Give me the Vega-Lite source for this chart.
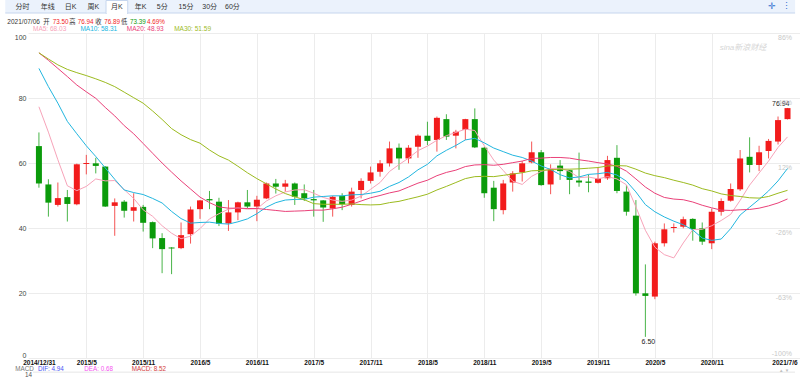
{
"$schema":"https://vega.github.io/schema/vega-lite/v6.json",
"width":772,"height":325,
"autosize":{"type":"none"},
"padding":{"left":28,"top":33,"right":0,"bottom":19},
"background":"white",
"config":{"view":{"stroke":null},"text":{"font":"Liberation Sans, Noto Sans CJK SC"}},
"datasets":{
"k":[
{"i":0,"o":65.2,"h":69.4,"l":52.4,"c":53.7,"m5":77.3,"m10":89.1,"m20":93.9,"m30":93.9},
{"i":1,"o":53.4,"h":55.0,"l":43.5,"c":47.8,"m5":69.5,"m10":83.5,"m20":91.6,"m30":92.0},
{"i":2,"o":47.1,"h":54.0,"l":46.6,"c":49.2,"m5":61.0,"m10":78.4,"m20":89.1,"m30":90.2},
{"i":3,"o":49.5,"h":51.7,"l":42.0,"c":47.4,"m5":53.0,"m10":72.8,"m20":86.6,"m30":88.8},
{"i":4,"o":47.3,"h":59.8,"l":47.0,"c":59.6,"m5":51.5,"m10":69.0,"m20":84.0,"m30":87.8},
{"i":5,"o":59.7,"h":62.5,"l":56.5,"c":60.0,"m5":52.8,"m10":65.3,"m20":81.9,"m30":86.9},
{"i":6,"o":59.9,"h":61.6,"l":56.8,"c":59.1,"m5":55.1,"m10":62.0,"m20":79.9,"m30":85.9},
{"i":7,"o":58.9,"h":59.0,"l":46.5,"c":46.6,"m5":54.5,"m10":58.5,"m20":77.1,"m30":84.8},
{"i":8,"o":46.8,"h":49.1,"l":37.6,"c":47.9,"m5":54.6,"m10":55.0,"m20":74.5,"m30":83.5},
{"i":9,"o":48.1,"h":48.6,"l":43.2,"c":45.3,"m5":51.8,"m10":51.7,"m20":71.5,"m30":81.8},
{"i":10,"o":45.3,"h":50.7,"l":42.0,"c":46.4,"m5":49.1,"m10":50.9,"m20":69.0,"m30":80.1},
{"i":11,"o":46.5,"h":47.1,"l":38.9,"c":41.6,"m5":45.6,"m10":50.3,"m20":66.0,"m30":78.4},
{"i":12,"o":41.8,"h":42.0,"l":33.8,"c":36.8,"m5":43.6,"m10":49.1,"m20":63.0,"m30":76.0},
{"i":13,"o":36.9,"h":38.4,"l":26.1,"c":33.5,"m5":40.7,"m10":47.7,"m20":60.0,"m30":73.4},
{"i":14,"o":34.0,"h":34.1,"l":25.8,"c":33.7,"m5":38.4,"m10":45.1,"m20":57.2,"m30":70.6},
{"i":15,"o":33.8,"h":41.7,"l":33.5,"c":37.8,"m5":36.7,"m10":42.9,"m20":54.5,"m30":68.7},
{"i":16,"o":38.1,"h":46.6,"l":35.2,"c":45.7,"m5":37.5,"m10":41.5,"m20":52.0,"m30":67.2},
{"i":17,"o":45.8,"h":48.6,"l":42.8,"c":48.5,"m5":39.8,"m10":41.7,"m20":49.5,"m30":66.1},
{"i":18,"o":48.9,"h":51.4,"l":45.8,"c":48.5,"m5":42.8,"m10":41.8,"m20":47.8,"m30":64.0},
{"i":19,"o":48.1,"h":49.3,"l":40.6,"c":41.3,"m5":44.4,"m10":41.4,"m20":46.5,"m30":62.2},
{"i":20,"o":41.4,"h":48.6,"l":39.1,"c":44.8,"m5":45.8,"m10":41.2,"m20":46.1,"m30":60.9},
{"i":21,"o":44.8,"h":48.1,"l":42.4,"c":47.9,"m5":46.2,"m10":41.9,"m20":46.1,"m30":59.0},
{"i":22,"o":47.9,"h":51.7,"l":46.0,"c":46.6,"m5":45.8,"m10":42.8,"m20":46.0,"m30":57.0},
{"i":23,"o":46.6,"h":49.9,"l":42.1,"c":48.7,"m5":45.9,"m10":44.4,"m20":46.0,"m30":55.2},
{"i":24,"o":49.1,"h":54.0,"l":48.9,"c":53.7,"m5":48.3,"m10":46.4,"m20":45.7,"m30":53.6},
{"i":25,"o":53.7,"h":55.1,"l":50.6,"c":52.7,"m5":49.9,"m10":47.8,"m20":45.4,"m30":52.0},
{"i":26,"o":52.7,"h":54.8,"l":51.2,"c":53.7,"m5":51.1,"m10":48.6,"m20":45.1,"m30":50.6},
{"i":27,"o":53.7,"h":54.0,"l":47.1,"c":49.6,"m5":51.7,"m10":48.8,"m20":45.2,"m30":49.6},
{"i":28,"o":50.7,"h":53.4,"l":48.3,"c":49.1,"m5":51.8,"m10":48.8,"m20":45.3,"m30":48.7},
{"i":29,"o":48.9,"h":51.7,"l":43.5,"c":48.5,"m5":50.7,"m10":49.5,"m20":45.5,"m30":47.5},
{"i":30,"o":48.5,"h":48.6,"l":41.9,"c":46.3,"m5":49.4,"m10":49.7,"m20":45.5,"m30":47.3},
{"i":31,"o":46.0,"h":49.9,"l":43.5,"c":49.6,"m5":48.6,"m10":49.9,"m20":45.9,"m30":47.3},
{"i":32,"o":49.9,"h":50.7,"l":45.5,"c":47.3,"m5":48.2,"m10":49.9,"m20":46.4,"m30":47.3},
{"i":33,"o":47.1,"h":52.4,"l":46.6,"c":51.2,"m5":48.6,"m10":50.2,"m20":47.3,"m30":47.4},
{"i":34,"o":51.7,"h":55.3,"l":49.1,"c":54.5,"m5":49.8,"m10":50.3,"m20":48.3,"m30":47.2},
{"i":35,"o":54.5,"h":58.9,"l":53.7,"c":57.1,"m5":51.9,"m10":50.7,"m20":49.3,"m30":47.1},
{"i":36,"o":57.3,"h":60.9,"l":55.8,"c":59.9,"m5":54.0,"m10":51.3,"m20":50.0,"m30":47.2},
{"i":37,"o":59.9,"h":66.6,"l":58.9,"c":64.5,"m5":57.4,"m10":52.8,"m20":50.8,"m30":47.8},
{"i":38,"o":64.7,"h":66.0,"l":57.9,"c":61.4,"m5":59.5,"m10":54.0,"m20":51.4,"m30":48.2},
{"i":39,"o":61.4,"h":65.5,"l":59.9,"c":64.7,"m5":61.5,"m10":55.7,"m20":52.6,"m30":48.9},
{"i":40,"o":65.0,"h":68.8,"l":61.6,"c":68.4,"m5":63.8,"m10":57.9,"m20":53.8,"m30":49.6},
{"i":41,"o":68.4,"h":72.7,"l":65.5,"c":66.8,"m5":65.2,"m10":59.6,"m20":54.7,"m30":50.4},
{"i":42,"o":67.1,"h":74.3,"l":63.5,"c":73.9,"m5":67.0,"m10":62.2,"m20":56.1,"m30":51.7},
{"i":43,"o":73.5,"h":75.0,"l":67.1,"c":68.1,"m5":68.4,"m10":63.9,"m20":57.1,"m30":52.8},
{"i":44,"o":68.4,"h":70.2,"l":64.5,"c":69.6,"m5":69.4,"m10":65.4,"m20":57.8,"m30":54.0},
{"i":45,"o":70.2,"h":73.6,"l":67.1,"c":73.5,"m5":70.4,"m10":67.1,"m20":58.9,"m30":55.2},
{"i":46,"o":73.5,"h":76.8,"l":64.6,"c":64.8,"m5":70.0,"m10":67.6,"m20":59.4,"m30":55.8},
{"i":47,"o":64.7,"h":65.0,"l":49.3,"c":50.7,"m5":65.3,"m10":66.2,"m20":59.5,"m30":55.9},
{"i":48,"o":52.4,"h":54.5,"l":42.1,"c":45.8,"m5":60.9,"m10":64.6,"m20":59.3,"m30":55.8},
{"i":49,"o":45.5,"h":54.8,"l":44.2,"c":53.7,"m5":57.7,"m10":63.5,"m20":59.6,"m30":56.2},
{"i":50,"o":54.0,"h":57.5,"l":51.2,"c":56.8,"m5":54.4,"m10":62.4,"m20":60.1,"m30":56.6},
{"i":51,"o":57.1,"h":60.6,"l":54.3,"c":59.9,"m5":53.4,"m10":61.7,"m20":60.6,"m30":57.0},
{"i":52,"o":60.2,"h":66.6,"l":59.9,"c":63.3,"m5":55.9,"m10":60.6,"m20":61.4,"m30":57.6},
{"i":53,"o":63.3,"h":64.0,"l":53.0,"c":53.2,"m5":57.4,"m10":59.1,"m20":61.5,"m30":57.7},
{"i":54,"o":53.4,"h":59.6,"l":50.4,"c":58.2,"m5":58.3,"m10":58.0,"m20":61.7,"m30":57.9},
{"i":55,"o":59.2,"h":60.9,"l":54.8,"c":57.5,"m5":58.4,"m10":56.4,"m20":61.7,"m30":58.1},
{"i":56,"o":57.8,"h":57.9,"l":50.4,"c":54.8,"m5":57.4,"m10":55.4,"m20":61.5,"m30":58.1},
{"i":57,"o":54.6,"h":63.2,"l":52.7,"c":54.0,"m5":55.5,"m10":55.7,"m20":61.0,"m30":58.2},
{"i":58,"o":54.3,"h":56.5,"l":51.0,"c":53.9,"m5":55.7,"m10":56.5,"m20":60.6,"m30":58.4},
{"i":59,"o":53.9,"h":58.6,"l":53.7,"c":55.3,"m5":55.1,"m10":56.7,"m20":60.1,"m30":58.6},
{"i":60,"o":55.3,"h":62.2,"l":54.8,"c":60.9,"m5":55.8,"m10":57.1,"m20":59.7,"m30":59.1},
{"i":61,"o":61.6,"h":65.5,"l":50.7,"c":51.4,"m5":55.1,"m10":56.3,"m20":59.0,"m30":59.2},
{"i":62,"o":51.2,"h":53.2,"l":43.8,"c":45.0,"m5":53.3,"m10":54.4,"m20":57.5,"m30":59.1},
{"i":63,"o":43.8,"h":48.6,"l":19.2,"c":19.9,"m5":46.5,"m10":51.1,"m20":55.1,"m30":58.1},
{"i":64,"o":19.9,"h":28.8,"l":6.5,"c":19.1,"m5":39.3,"m10":47.2,"m20":52.6,"m30":56.9},
{"i":65,"o":18.9,"h":35.8,"l":18.1,"c":35.3,"m5":34.1,"m10":45.0,"m20":50.7,"m30":56.1},
{"i":66,"o":35.3,"h":41.4,"l":34.3,"c":39.6,"m5":31.8,"m10":43.4,"m20":49.4,"m30":55.5},
{"i":67,"o":40.0,"h":41.4,"l":38.6,"c":40.3,"m5":30.8,"m10":42.1,"m20":48.9,"m30":54.7},
{"i":68,"o":40.4,"h":43.5,"l":39.9,"c":42.7,"m5":35.4,"m10":41.0,"m20":48.7,"m30":54.0},
{"i":69,"o":42.8,"h":43.0,"l":36.1,"c":39.7,"m5":39.5,"m10":39.4,"m20":48.0,"m30":53.2},
{"i":70,"o":39.9,"h":41.7,"l":34.8,"c":35.8,"m5":39.6,"m10":36.9,"m20":47.0,"m30":52.1},
{"i":71,"o":35.3,"h":46.0,"l":33.5,"c":45.0,"m5":40.7,"m10":36.2,"m20":46.2,"m30":51.4},
{"i":72,"o":45.0,"h":49.1,"l":43.8,"c":48.3,"m5":42.3,"m10":36.6,"m20":45.5,"m30":50.5},
{"i":73,"o":48.4,"h":53.7,"l":48.1,"c":52.0,"m5":44.2,"m10":39.8,"m20":45.4,"m30":50.0},
{"i":74,"o":51.9,"h":64.0,"l":51.4,"c":61.4,"m5":48.5,"m10":44.0,"m20":45.6,"m30":49.7},
{"i":75,"o":61.9,"h":67.9,"l":57.1,"c":59.4,"m5":53.2,"m10":46.4,"m20":45.7,"m30":49.3},
{"i":76,"o":59.4,"h":65.3,"l":57.5,"c":63.3,"m5":56.9,"m10":48.8,"m20":46.1,"m30":49.2},
{"i":77,"o":63.7,"h":67.4,"l":61.4,"c":66.8,"m5":60.6,"m10":51.4,"m20":46.8,"m30":49.7},
{"i":78,"o":66.6,"h":74.3,"l":65.7,"c":73.2,"m5":64.8,"m10":54.5,"m20":47.7,"m30":50.7},
{"i":79,"o":73.5,"h":76.94,"l":73.39,"c":76.89,"m5":68.03,"m10":58.31,"m20":48.93,"m30":51.59}
],
"pct":[
{"v":100,"p":"86%"},{"v":80,"p":"49%"},{"v":60,"p":"12%"},{"v":40,"p":"-26%"},{"v":20,"p":"-63%"},{"v":0,"p":"-100%"}
]
},
"layer":[
{"data":{"name":"k"},"mark":{"type":"rule","strokeWidth":1,"opacity":0.75},
 "encoding":{
  "x":{"field":"i","type":"quantitative","scale":{"domain":[-0.625,79.79],"nice":false,"zero":false},
   "axis":{"title":null,"values":[0,5,11,17,23,29,35,41,47,53,59,65,71,79],
    "labelExpr":"datum.value==0?'2014/12/31':datum.value==79?'2021/7/6':(2015+floor((datum.value-1)/12))+'/'+(((datum.value+11)%12)+1)",
    "domain":false,"ticks":false,"labelPadding":1,"labelFontSize":6.5,"labelFontWeight":"bold","labelColor":"#111","labelFont":"Liberation Sans","labelFlush":true,"labelOverlap":false,
    "labelOffset":{"condition":{"test":"datum.value==79","value":-3},"value":0},
    "gridColor":"#ececec","gridOpacity":{"condition":{"test":"datum.value==0 || datum.value==79","value":0},"value":1}}},
  "y":{"field":"l","type":"quantitative","scale":{"domain":[0,100],"nice":false,"zero":false},
   "axis":{"title":null,"values":[0,20,40,60,80,100],"domain":false,"ticks":false,"labelPadding":2,"labelFontSize":7,"labelColor":"#444","labelFont":"Liberation Sans","labelFlush":true,"gridColor":"#ececec"}},
  "y2":{"field":"h"},
  "color":{"condition":{"test":"datum.c >= datum.o","value":"#f21c1c"},"value":"#0b9b0b"}
 }},
{"data":{"name":"k"},"mark":{"type":"bar","size":6},
 "encoding":{
  "x":{"field":"i","type":"quantitative","scale":{"domain":[-0.625,79.79],"nice":false,"zero":false}},
  "y":{"field":"o","type":"quantitative","scale":{"domain":[0,100],"nice":false,"zero":false}},
  "y2":{"field":"c"},
  "color":{"condition":{"test":"datum.c >= datum.o","value":"#f21c1c"},"value":"#0b9b0b"}
 }},
{"data":{"name":"k"},"mark":{"type":"line","strokeWidth":1,"color":"#f7a3b9"},
 "encoding":{"x":{"field":"i","type":"quantitative","scale":{"domain":[-0.625,79.79],"nice":false,"zero":false}},
  "y":{"field":"m5","type":"quantitative","scale":{"domain":[0,100],"nice":false,"zero":false}}}},
{"data":{"name":"k"},"mark":{"type":"line","strokeWidth":1,"color":"#22b6df"},
 "encoding":{"x":{"field":"i","type":"quantitative","scale":{"domain":[-0.625,79.79],"nice":false,"zero":false}},
  "y":{"field":"m10","type":"quantitative","scale":{"domain":[0,100],"nice":false,"zero":false}}}},
{"data":{"name":"k"},"mark":{"type":"line","strokeWidth":1,"color":"#ea4179"},
 "encoding":{"x":{"field":"i","type":"quantitative","scale":{"domain":[-0.625,79.79],"nice":false,"zero":false}},
  "y":{"field":"m20","type":"quantitative","scale":{"domain":[0,100],"nice":false,"zero":false}}}},
{"data":{"name":"k"},"mark":{"type":"line","strokeWidth":1,"color":"#9cbb1f"},
 "encoding":{"x":{"field":"i","type":"quantitative","scale":{"domain":[-0.625,79.79],"nice":false,"zero":false}},
  "y":{"field":"m30","type":"quantitative","scale":{"domain":[0,100],"nice":false,"zero":false}}}},
{"data":{"name":"k"},"transform":[{"filter":"datum.i == 79"}],
 "mark":{"type":"text","align":"right","baseline":"bottom","dx":2,"dy":-1,"fontSize":7,"color":"#222"},
 "encoding":{"x":{"field":"i","type":"quantitative","scale":{"domain":[-0.625,79.79],"nice":false,"zero":false}},
  "y":{"field":"h","type":"quantitative","scale":{"domain":[0,100],"nice":false,"zero":false}},
  "text":{"field":"h","type":"quantitative","format":".2f"}}},
{"data":{"name":"k"},"transform":[{"filter":"datum.i == 64"}],
 "mark":{"type":"text","align":"center","baseline":"top","dx":3,"dy":1,"fontSize":7,"color":"#222"},
 "encoding":{"x":{"field":"i","type":"quantitative","scale":{"domain":[-0.625,79.79],"nice":false,"zero":false}},
  "y":{"field":"l","type":"quantitative","scale":{"domain":[0,100],"nice":false,"zero":false}},
  "text":{"field":"l","type":"quantitative","format":".2f"}}},
{"data":{"name":"pct"},"transform":[{"filter":"datum.v > 0"}],
 "mark":{"type":"text","align":"right","baseline":"top","dx":-3,"dy":1,"fontSize":7,"color":"#c8c8c8"},
 "encoding":{"x":{"datum":79.79,"type":"quantitative","scale":{"domain":[-0.625,79.79],"nice":false,"zero":false}},
  "y":{"field":"v","type":"quantitative","scale":{"domain":[0,100],"nice":false,"zero":false}},
  "text":{"field":"p"}}},
{"data":{"name":"pct"},"transform":[{"filter":"datum.v == 0"}],
 "mark":{"type":"text","align":"right","baseline":"bottom","dx":-3,"dy":-1,"fontSize":7,"color":"#c8c8c8"},
 "encoding":{"x":{"datum":79.79,"type":"quantitative","scale":{"domain":[-0.625,79.79],"nice":false,"zero":false}},
  "y":{"field":"v","type":"quantitative","scale":{"domain":[0,100],"nice":false,"zero":false}},
  "text":{"field":"p"}}},
{"data":{"values":[{}]},"mark":{"type":"rect","fill":"#ebf2fc"},
 "encoding":{"x":{"datum":-3.55,"type":"quantitative","scale":{"domain":[-0.625,79.79],"nice":false,"zero":false}},"x2":{"datum":79.8},
  "y":{"datum":110.2,"type":"quantitative","scale":{"domain":[0,100],"nice":false,"zero":false}},"y2":{"datum":106.15}}},
{"data":{"values":[{}]},"mark":{"type":"rule","color":"#c6d6ee","strokeWidth":1},
 "encoding":{"x":{"datum":-3.55,"type":"quantitative","scale":{"domain":[-0.625,79.79],"nice":false,"zero":false}},"x2":{"datum":79.8},
  "y":{"datum":106.15,"type":"quantitative","scale":{"domain":[0,100],"nice":false,"zero":false}}}},
{"data":{"values":[{}]},"mark":{"type":"rect","fill":"white","stroke":"#c6d6ee","strokeWidth":1},
 "encoding":{"x":{"datum":7.08,"type":"quantitative","scale":{"domain":[-0.625,79.79],"nice":false,"zero":false}},"x2":{"datum":9.375},
  "y":{"datum":110.0,"type":"quantitative","scale":{"domain":[0,100],"nice":false,"zero":false}},"y2":{"datum":106.0}}},
{"data":{"values":[{}]},"mark":{"type":"rule","color":"#ffffff","strokeWidth":1.5},
 "encoding":{"x":{"datum":7.15,"type":"quantitative","scale":{"domain":[-0.625,79.79],"nice":false,"zero":false}},"x2":{"datum":9.3},
  "y":{"datum":106.05,"type":"quantitative","scale":{"domain":[0,100],"nice":false,"zero":false}}}},
{"data":{"values":[{}]},"mark":{"type":"text","text":"分时","fontSize":7,"color":"#333","align":"center","baseline":"middle"},
 "encoding":{"x":{"datum":-1.72,"type":"quantitative","scale":{"domain":[-0.625,79.79],"nice":false,"zero":false}},"y":{"datum":108.15,"type":"quantitative","scale":{"domain":[0,100],"nice":false,"zero":false}}}},
{"data":{"values":[{}]},"mark":{"type":"text","text":"年线","fontSize":7,"color":"#333","align":"center","baseline":"middle"},
 "encoding":{"x":{"datum":0.94,"type":"quantitative","scale":{"domain":[-0.625,79.79],"nice":false,"zero":false}},"y":{"datum":108.15,"type":"quantitative","scale":{"domain":[0,100],"nice":false,"zero":false}}}},
{"data":{"values":[{}]},"mark":{"type":"text","text":"日K","fontSize":7,"color":"#333","align":"center","baseline":"middle"},
 "encoding":{"x":{"datum":3.33,"type":"quantitative","scale":{"domain":[-0.625,79.79],"nice":false,"zero":false}},"y":{"datum":108.15,"type":"quantitative","scale":{"domain":[0,100],"nice":false,"zero":false}}}},
{"data":{"values":[{}]},"mark":{"type":"text","text":"周K","fontSize":7,"color":"#333","align":"center","baseline":"middle"},
 "encoding":{"x":{"datum":5.73,"type":"quantitative","scale":{"domain":[-0.625,79.79],"nice":false,"zero":false}},"y":{"datum":108.15,"type":"quantitative","scale":{"domain":[0,100],"nice":false,"zero":false}}}},
{"data":{"values":[{}]},"mark":{"type":"text","text":"月K","fontSize":7,"color":"#333","align":"center","baseline":"middle"},
 "encoding":{"x":{"datum":8.23,"type":"quantitative","scale":{"domain":[-0.625,79.79],"nice":false,"zero":false}},"y":{"datum":108.15,"type":"quantitative","scale":{"domain":[0,100],"nice":false,"zero":false}}}},
{"data":{"values":[{}]},"mark":{"type":"text","text":"年K","fontSize":7,"color":"#333","align":"center","baseline":"middle"},
 "encoding":{"x":{"datum":10.73,"type":"quantitative","scale":{"domain":[-0.625,79.79],"nice":false,"zero":false}},"y":{"datum":108.15,"type":"quantitative","scale":{"domain":[0,100],"nice":false,"zero":false}}}},
{"data":{"values":[{}]},"mark":{"type":"text","text":"5分","fontSize":7,"color":"#333","align":"center","baseline":"middle"},
 "encoding":{"x":{"datum":13.02,"type":"quantitative","scale":{"domain":[-0.625,79.79],"nice":false,"zero":false}},"y":{"datum":108.15,"type":"quantitative","scale":{"domain":[0,100],"nice":false,"zero":false}}}},
{"data":{"values":[{}]},"mark":{"type":"text","text":"15分","fontSize":7,"color":"#333","align":"center","baseline":"middle"},
 "encoding":{"x":{"datum":15.52,"type":"quantitative","scale":{"domain":[-0.625,79.79],"nice":false,"zero":false}},"y":{"datum":108.15,"type":"quantitative","scale":{"domain":[0,100],"nice":false,"zero":false}}}},
{"data":{"values":[{}]},"mark":{"type":"text","text":"30分","fontSize":7,"color":"#333","align":"center","baseline":"middle"},
 "encoding":{"x":{"datum":18.02,"type":"quantitative","scale":{"domain":[-0.625,79.79],"nice":false,"zero":false}},"y":{"datum":108.15,"type":"quantitative","scale":{"domain":[0,100],"nice":false,"zero":false}}}},
{"data":{"values":[{}]},"mark":{"type":"text","text":"60分","fontSize":7,"color":"#333","align":"center","baseline":"middle"},
 "encoding":{"x":{"datum":20.42,"type":"quantitative","scale":{"domain":[-0.625,79.79],"nice":false,"zero":false}},"y":{"datum":108.15,"type":"quantitative","scale":{"domain":[0,100],"nice":false,"zero":false}}}},
{"data":{"values":[{}]},"mark":{"type":"text","text":"✛","fontSize":9,"color":"#2f6fd0","align":"center","baseline":"middle"},
 "encoding":{"x":{"datum":77.4,"type":"quantitative","scale":{"domain":[-0.625,79.79],"nice":false,"zero":false}},"y":{"datum":108.2,"type":"quantitative","scale":{"domain":[0,100],"nice":false,"zero":false}}}},
{"data":{"values":[{}]},"mark":{"type":"text","text":"⋮","fontSize":9,"color":"#2f6fd0","align":"center","baseline":"middle"},
 "encoding":{"x":{"datum":78.85,"type":"quantitative","scale":{"domain":[-0.625,79.79],"nice":false,"zero":false}},"y":{"datum":108.2,"type":"quantitative","scale":{"domain":[0,100],"nice":false,"zero":false}}}},
{"data":{"values":[{}]},"mark":{"type":"text","text":"2021/07/06","fontSize":6.5,"color":"#333","align":"left","baseline":"middle"},
 "encoding":{"x":{"datum":-3.33,"type":"quantitative","scale":{"domain":[-0.625,79.79],"nice":false,"zero":false}},"y":{"datum":103.3,"type":"quantitative","scale":{"domain":[0,100],"nice":false,"zero":false}}}},
{"data":{"values":[{}]},"mark":{"type":"text","text":"开","fontSize":6.3,"color":"#333","align":"left","baseline":"middle"},
 "encoding":{"x":{"datum":0.45,"type":"quantitative","scale":{"domain":[-0.625,79.79],"nice":false,"zero":false}},"y":{"datum":103.3,"type":"quantitative","scale":{"domain":[0,100],"nice":false,"zero":false}}}},
{"data":{"values":[{}]},"mark":{"type":"text","text":"73.50","fontSize":6.3,"color":"#f21c1c","align":"left","baseline":"middle"},
 "encoding":{"x":{"datum":1.46,"type":"quantitative","scale":{"domain":[-0.625,79.79],"nice":false,"zero":false}},"y":{"datum":103.3,"type":"quantitative","scale":{"domain":[0,100],"nice":false,"zero":false}}}},
{"data":{"values":[{}]},"mark":{"type":"text","text":"高","fontSize":6.3,"color":"#333","align":"left","baseline":"middle"},
 "encoding":{"x":{"datum":3.2,"type":"quantitative","scale":{"domain":[-0.625,79.79],"nice":false,"zero":false}},"y":{"datum":103.3,"type":"quantitative","scale":{"domain":[0,100],"nice":false,"zero":false}}}},
{"data":{"values":[{}]},"mark":{"type":"text","text":"76.94","fontSize":6.3,"color":"#f21c1c","align":"left","baseline":"middle"},
 "encoding":{"x":{"datum":4.1,"type":"quantitative","scale":{"domain":[-0.625,79.79],"nice":false,"zero":false}},"y":{"datum":103.3,"type":"quantitative","scale":{"domain":[0,100],"nice":false,"zero":false}}}},
{"data":{"values":[{}]},"mark":{"type":"text","text":"收","fontSize":6.3,"color":"#333","align":"left","baseline":"middle"},
 "encoding":{"x":{"datum":5.95,"type":"quantitative","scale":{"domain":[-0.625,79.79],"nice":false,"zero":false}},"y":{"datum":103.3,"type":"quantitative","scale":{"domain":[0,100],"nice":false,"zero":false}}}},
{"data":{"values":[{}]},"mark":{"type":"text","text":"76.89","fontSize":6.3,"color":"#f21c1c","align":"left","baseline":"middle"},
 "encoding":{"x":{"datum":6.9,"type":"quantitative","scale":{"domain":[-0.625,79.79],"nice":false,"zero":false}},"y":{"datum":103.3,"type":"quantitative","scale":{"domain":[0,100],"nice":false,"zero":false}}}},
{"data":{"values":[{}]},"mark":{"type":"text","text":"低","fontSize":6.3,"color":"#333","align":"left","baseline":"middle"},
 "encoding":{"x":{"datum":8.65,"type":"quantitative","scale":{"domain":[-0.625,79.79],"nice":false,"zero":false}},"y":{"datum":103.3,"type":"quantitative","scale":{"domain":[0,100],"nice":false,"zero":false}}}},
{"data":{"values":[{}]},"mark":{"type":"text","text":"73.39","fontSize":6.3,"color":"#0b9b0b","align":"left","baseline":"middle"},
 "encoding":{"x":{"datum":9.6,"type":"quantitative","scale":{"domain":[-0.625,79.79],"nice":false,"zero":false}},"y":{"datum":103.3,"type":"quantitative","scale":{"domain":[0,100],"nice":false,"zero":false}}}},
{"data":{"values":[{}]},"mark":{"type":"text","text":"4.69%","fontSize":6.3,"color":"#f21c1c","align":"left","baseline":"middle"},
 "encoding":{"x":{"datum":11.4,"type":"quantitative","scale":{"domain":[-0.625,79.79],"nice":false,"zero":false}},"y":{"datum":103.3,"type":"quantitative","scale":{"domain":[0,100],"nice":false,"zero":false}}}},
{"data":{"values":[{}]},"mark":{"type":"text","text":"MA5: 68.03","fontSize":6.5,"color":"#f7a3b9","align":"left","baseline":"middle"},
 "encoding":{"x":{"datum":-0.625,"type":"quantitative","scale":{"domain":[-0.625,79.79],"nice":false,"zero":false}},"y":{"datum":101.1,"type":"quantitative","scale":{"domain":[0,100],"nice":false,"zero":false}}}},
{"data":{"values":[{}]},"mark":{"type":"text","text":"MA10: 58.31","fontSize":6.5,"color":"#22b6df","align":"left","baseline":"middle"},
 "encoding":{"x":{"datum":4.375,"type":"quantitative","scale":{"domain":[-0.625,79.79],"nice":false,"zero":false}},"y":{"datum":101.1,"type":"quantitative","scale":{"domain":[0,100],"nice":false,"zero":false}}}},
{"data":{"values":[{}]},"mark":{"type":"text","text":"MA20: 48.93","fontSize":6.5,"color":"#ea4179","align":"left","baseline":"middle"},
 "encoding":{"x":{"datum":9.27,"type":"quantitative","scale":{"domain":[-0.625,79.79],"nice":false,"zero":false}},"y":{"datum":101.1,"type":"quantitative","scale":{"domain":[0,100],"nice":false,"zero":false}}}},
{"data":{"values":[{}]},"mark":{"type":"text","text":"MA30: 51.59","fontSize":6.5,"color":"#9cbb1f","align":"left","baseline":"middle"},
 "encoding":{"x":{"datum":14.27,"type":"quantitative","scale":{"domain":[-0.625,79.79],"nice":false,"zero":false}},"y":{"datum":101.1,"type":"quantitative","scale":{"domain":[0,100],"nice":false,"zero":false}}}},
{"data":{"values":[{}]},"mark":{"type":"text","text":"sina新浪财经","fontSize":8,"color":"#d6d6d6","align":"center","baseline":"middle","fontStyle":"italic"},
 "encoding":{"x":{"datum":74.3,"type":"quantitative","scale":{"domain":[-0.625,79.79],"nice":false,"zero":false}},"y":{"datum":95.3,"type":"quantitative","scale":{"domain":[0,100],"nice":false,"zero":false}}}},
{"data":{"values":[{}]},"mark":{"type":"rule","color":"#e6e6e6","strokeWidth":1},
 "encoding":{"x":{"datum":-0.625,"type":"quantitative","scale":{"domain":[-0.625,79.79],"nice":false,"zero":false}},"x2":{"datum":79.79},
  "y":{"datum":-4.35,"type":"quantitative","scale":{"domain":[0,100],"nice":false,"zero":false}}}},
{"data":{"values":[{}]},"mark":{"type":"text","text":"MACD","fontSize":6.3,"color":"#777","align":"left","baseline":"middle"},
 "encoding":{"x":{"datum":-2.5,"type":"quantitative","scale":{"domain":[-0.625,79.79],"nice":false,"zero":false}},"y":{"datum":-3.35,"type":"quantitative","scale":{"domain":[0,100],"nice":false,"zero":false}}}},
{"data":{"values":[{}]},"mark":{"type":"text","text":"DIF: 4.94","fontSize":6.3,"color":"#4b55f5","align":"left","baseline":"middle"},
 "encoding":{"x":{"datum":-0.1,"type":"quantitative","scale":{"domain":[-0.625,79.79],"nice":false,"zero":false}},"y":{"datum":-3.35,"type":"quantitative","scale":{"domain":[0,100],"nice":false,"zero":false}}}},
{"data":{"values":[{}]},"mark":{"type":"text","text":"DEA: 0.68","fontSize":6.3,"color":"#f555f0","align":"left","baseline":"middle"},
 "encoding":{"x":{"datum":4.79,"type":"quantitative","scale":{"domain":[-0.625,79.79],"nice":false,"zero":false}},"y":{"datum":-3.35,"type":"quantitative","scale":{"domain":[0,100],"nice":false,"zero":false}}}},
{"data":{"values":[{}]},"mark":{"type":"text","text":"MACD: 8.52","fontSize":6.3,"color":"#d33b3b","align":"left","baseline":"middle"},
 "encoding":{"x":{"datum":9.79,"type":"quantitative","scale":{"domain":[-0.625,79.79],"nice":false,"zero":false}},"y":{"datum":-3.35,"type":"quantitative","scale":{"domain":[0,100],"nice":false,"zero":false}}}},
{"data":{"values":[{}]},"mark":{"type":"text","text":"14","fontSize":6.3,"color":"#555","align":"right","baseline":"middle"},
 "encoding":{"x":{"datum":-0.73,"type":"quantitative","scale":{"domain":[-0.625,79.79],"nice":false,"zero":false}},"y":{"datum":-5.2,"type":"quantitative","scale":{"domain":[0,100],"nice":false,"zero":false}}}},
{"data":{"values":[{}]},"mark":{"type":"text","text":"▲  ▼","fontSize":4.5,"color":"#c0c0c0","align":"center","baseline":"middle"},
 "encoding":{"x":{"datum":78.65,"type":"quantitative","scale":{"domain":[-0.625,79.79],"nice":false,"zero":false}},"y":{"datum":-3.9,"type":"quantitative","scale":{"domain":[0,100],"nice":false,"zero":false}}}}
]
}
